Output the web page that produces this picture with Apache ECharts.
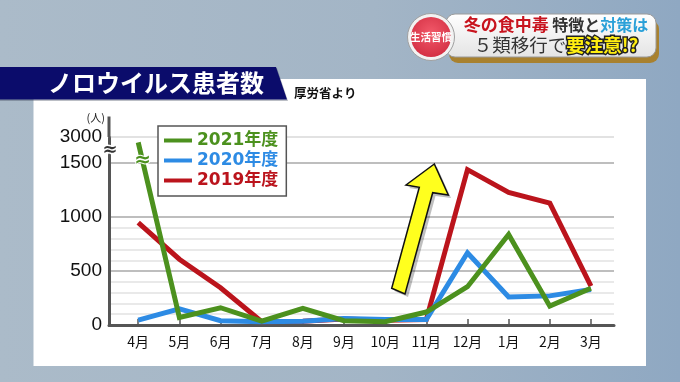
<!DOCTYPE html>
<html><head><meta charset="utf-8">
<script src="https://cdn.jsdelivr.net/npm/echarts@6/dist/echarts.min.js"></script>
<style>
html,body{margin:0;padding:0;width:680px;height:382px;overflow:hidden;
background:linear-gradient(90deg,#abbbc9 0%,#a3b5c6 55%,#8fa8c2 100%);}
#c{width:680px;height:382px;}
</style>
</head><body><div id="c"></div>
<script>
// ---- data ----
const months = ['4月','5月','6月','7月','8月','9月','10月','11月','12月','1月','2月','3月'];
const fy2021 = [2950, 70, 160, 35, 155, 40, 30, 120, 355, 840, 175, 340];
const fy2020 = [45, 150, 40, 30, 35, 60, 50, 50, 670, 260, 270, 330];
const fy2019 = [950, 610, 345, 30, 35, 55, 45, 50, 1440, 1230, 1130, 360];
const seriesNames = ['2021年度', '2020年度', '2019年度'];
const seriesColors = ['#4c911e', '#2d8be4', '#bb141c'];
const yTickLabels = [0, 500, 1000, 1500, 3000];

const monthIdx = months.map((m, i) => i);
const xMin = -0.71, xMax = 11.56;
const CJK = "'Noto Sans CJK JP', sans-serif";

const chart = echarts.init(document.getElementById('c'), null, {renderer: 'canvas'});

function lineSeries(name, values, color, z) {
  return {
    name: name, type: 'line', z: z,
    data: values.map((v, i) => [i, v]),
    symbol: 'none', showSymbol: false,
    lineStyle: {width: 5, color: color, join: 'miter', cap: 'butt'},
    itemStyle: {color: color},
    emphasis: {disabled: true},
    animation: false
  };
}

chart.setOption({
  animation: false,
  backgroundColor: 'transparent',
  grid: {left: 109, right: 66, top: 137, bottom: 57, containLabel: false},
  xAxis: {
    type: 'value', min: xMin, max: xMax,
    axisLine: {show: true, onZero: false, lineStyle: {color: '#555', width: 3}},
    axisTick: {show: true, inside: true, length: 6, customValues: monthIdx, lineStyle: {color: '#555', width: 1.5}},
    axisLabel: {customValues: monthIdx, formatter: v => months[Math.round(v)], margin: 10,
      color: '#111', fontSize: 14, fontFamily: CJK},
    splitLine: {show: false}
  },
  yAxis: {
    type: 'value', min: 0, max: 3000, interval: 500,
    breaks: [{start: 1580, end: 2920, gap: 83}],
    breakArea: {show: false},
    name: '(人)', nameLocation: 'end', nameGap: 14,
    nameTextStyle: {fontSize: 11, color: '#222', align: 'right', padding: [0, 4, 0, 0], fontFamily: CJK},
    axisLine: {show: true, onZero: false, lineStyle: {color: '#555', width: 3}},
    axisTick: {show: false, customValues: yTickLabels},
    axisLabel: {customValues: yTickLabels, formatter: v => String(v),
      fontSize: 19, color: '#111', margin: 7, fontFamily: "'Liberation Sans', Arial, sans-serif",
      padding: [3, 0, 0, 0]},
    splitLine: {show: true, lineStyle: {color: ['#a8a8a8', '#a8a8a8', '#a8a8a8', '#a8a8a8', '#d8d8d8'], width: 1.5}},
    minorTick: {show: false, splitNumber: 5},
    minorSplitLine: {show: true, lineStyle: {color: '#e2e2e2', width: 1.5}}
  },
  legend: {
    orient: 'vertical', left: 158, top: 126,
    data: seriesNames.map((n, i) => ({name: n, textStyle: {color: seriesColors[i]}})),
    icon: 'rect', itemWidth: 28, itemHeight: 4, itemGap: 1,
    padding: [5, 8, 6, 6], backgroundColor: '#fff', borderColor: '#555', borderWidth: 1.5,
    textStyle: {fontSize: 17, fontWeight: 'bold', fontFamily: "'DejaVu Sans', 'Noto Sans CJK JP', sans-serif", lineHeight: 19},
    selectedMode: false
  },
  series: [
    lineSeries(seriesNames[2], fy2019, seriesColors[2], 3),
    lineSeries(seriesNames[1], fy2020, seriesColors[1], 4),
    lineSeries(seriesNames[0], fy2021, seriesColors[0], 5)
  ]
});

// ---- decorations positioned through the chart's own scales ----
const px = (x, y) => chart.convertToPixel({gridIndex: 0}, [x, y]);
const axisX = px(xMin, 0)[0];
const yTop = px(xMin, 3000)[1];
const yBreak = (px(xMin, 1580)[1] + px(xMin, 2920)[1]) / 2;
const p0 = px(0, fy2021[0]), p1 = px(1, fy2021[1]);
const gy = px(xMin, 1500)[1] - 2;
const t = (gy - p0[1]) / (p1[1] - p0[1]);
const gx = p0[0] + t * (p1[0] - p0[0]);

chart.setOption({
  graphic: {elements: [
    {type: 'rect', z: -10, silent: true, shape: {x: 33.5, y: 79, width: 612.5, height: 287}, style: {fill: '#fff'}},
    // title banner
    {type: 'polygon', z: 20, silent: true, shape: {points: [[0, 68], [277, 68], [288, 101], [0, 101]]}, style: {fill: 'rgba(60,70,90,0.35)'}},
    {type: 'polygon', z: 21, silent: true, shape: {points: [[0, 67], [276, 67], [287, 99.5], [0, 99.5]]}, style: {fill: '#0b0c6b'}},
    {type: 'text', z: 22, silent: true, x: 48, y: 83, style: {text: 'ノロウイルス患者数', fill: '#fff', fontSize: 24, fontWeight: 'bold', fontFamily: CJK, verticalAlign: 'middle'}},
    {type: 'text', z: 22, silent: true, x: 294, y: 93, style: {text: '厚労省より', fill: '#111', fontSize: 12.5, fontWeight: 'bold', fontFamily: CJK, verticalAlign: 'middle'}},
    // top-right badge
    {type: 'rect', z: 20, silent: true, shape: {x: 449, y: 20, width: 210, height: 43, r: 9}, style: {fill: '#a8812f'}},
    {type: 'rect', z: 21, silent: true, shape: {x: 446, y: 14, width: 210, height: 43, r: 9},
      style: {fill: new echarts.graphic.LinearGradient(0, 0, 0, 1, [{offset: 0, color: '#ffffff'}, {offset: 1, color: '#e4e4e4'}]), stroke: '#9a9a9a', lineWidth: 1}},
    {type: 'circle', z: 22, silent: true, shape: {cx: 431, cy: 37, r: 23.5}, style: {fill: '#f2f2f2', stroke: '#a0a0a0', lineWidth: 1}},
    {type: 'circle', z: 23, silent: true, shape: {cx: 431, cy: 37, r: 20},
      style: {fill: new echarts.graphic.RadialGradient(0.5, 0.4, 0.7, [{offset: 0, color: '#f2596a'}, {offset: 1, color: '#cf2a3e'}])}},
    {type: 'text', z: 24, silent: true, x: 431, y: 37, style: {text: '生活習慣', fill: '#fff', fontSize: 10.5, fontWeight: 'bold', fontFamily: CJK, align: 'center', verticalAlign: 'middle'}},
    {type: 'text', z: 24, silent: true, x: 556, y: 25, style: {
      text: '{r|冬の食中毒} {g|特徴と}{b|対策は}', align: 'center', verticalAlign: 'middle',
      rich: {
        r: {fill: '#c8141e', fontSize: 17, fontWeight: 'bold', fontFamily: CJK},
        g: {fill: '#333', fontSize: 16, fontWeight: 'bold', fontFamily: CJK},
        b: {fill: '#2aa0d8', fontSize: 16, fontWeight: 'bold', fontFamily: CJK}
      }}},
    {type: 'text', z: 24, silent: true, x: 556, y: 45, style: {
      text: '{g|５類移行で}{y|要注意!?}', align: 'center', verticalAlign: 'middle',
      rich: {
        g: {fill: '#333', fontSize: 18.5, fontFamily: CJK},
        y: {fill: '#ffee10', fontSize: 18.5, fontWeight: 'bold', fontFamily: CJK, stroke: '#222', lineWidth: 3}
      }}},
    // yellow arrow
    {type: 'polygon', z: 9, silent: true, shape: {points: [[437, 167], [409, 188], [422, 190], [394.5, 291], [408, 297], [435.5, 196], [451, 198]]}, style: {fill: 'rgba(0,0,0,0.25)'}},
    {type: 'polygon', z: 10, silent: true, shape: {points: [[434.3, 164], [406, 185], [419.3, 187.3], [391.7, 288.3], [405, 294], [432.7, 192.7], [448.3, 195]]},
      style: {fill: '#ffff1e', stroke: '#111', lineWidth: 1.5, lineJoin: 'miter'}},
    // axis extension above the top tick and break marks
    {type: 'line', z: 5, silent: true, shape: {x1: axisX, y1: 116.5, x2: axisX, y2: yTop}, style: {stroke: '#555', lineWidth: 3}},
    {type: 'text', z: 30, silent: true, x: axisX + 1, y: yBreak, style: {text: '≈', fill: '#333', fontSize: 18, fontWeight: 'bold', fontFamily: "'DejaVu Sans', sans-serif", align: 'center', verticalAlign: 'middle', stroke: '#fff', lineWidth: 3}},
    {type: 'text', z: 30, silent: true, x: gx, y: gy, style: {text: '≈', fill: seriesColors[0], fontSize: 20, fontWeight: 'bold', fontFamily: "'DejaVu Sans', sans-serif", align: 'center', verticalAlign: 'middle', stroke: '#fff', lineWidth: 2}}
  ]}
});
</script>
</body></html>
